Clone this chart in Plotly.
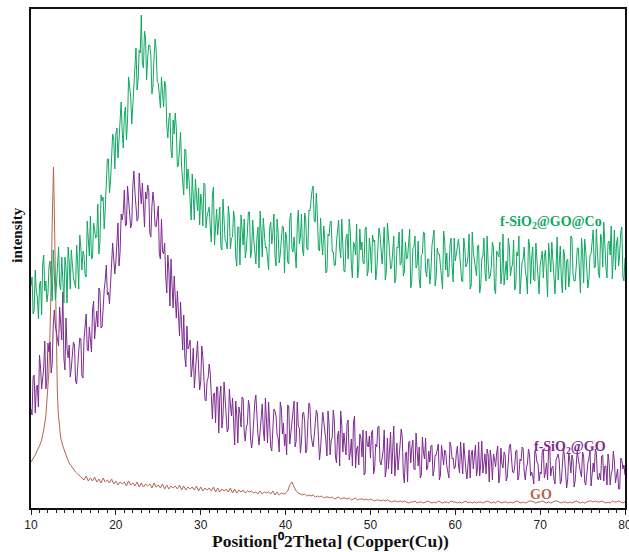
import plotly.graph_objects as go

# 2-theta grid (degrees) for the two noisy patterns, 0.125 deg step
two_theta = [10 + 0.125 * i for i in range(561)]

co_composite = [
    222, 231, 194, 198, 238, 217, 211, 189, 223, 227, 193, 244, 253, 217, 227, 206,
    215, 242, 247, 227, 207, 258, 238, 208, 223, 243, 261, 223, 218, 251, 232, 205,
    251, 240, 205, 261, 246, 219, 258, 237, 230, 226, 220, 263, 247, 219, 273, 260,
    238, 257, 253, 233, 231, 287, 272, 252, 292, 249, 250, 285, 278, 270, 271, 304,
    254, 266, 313, 307, 311, 279, 300, 323, 349, 349, 315, 327, 345, 374, 369, 339,
    374, 380, 350, 370, 399, 406, 376, 360, 393, 401, 368, 387, 431, 422, 411, 384,
    406, 428, 447, 460, 418, 428, 458, 455, 493, 445, 440, 477, 470, 428, 450, 463,
    463, 452, 414, 422, 450, 469, 458, 426, 425, 411, 400, 431, 412, 401, 427, 422,
    383, 370, 389, 395, 358, 350, 388, 374, 395, 380, 341, 343, 359, 376, 341, 325,
    313, 359, 358, 319, 339, 328, 307, 288, 334, 317, 288, 329, 306, 297, 320, 283,
    314, 306, 282, 325, 323, 280, 292, 296, 301, 281, 266, 313, 321, 263, 290, 299,
    273, 290, 301, 261, 258, 309, 285, 268, 266, 259, 302, 291, 259, 270, 271, 297,
    288, 251, 242, 281, 281, 243, 293, 274, 263, 289, 250, 258, 273, 296, 296, 250,
    257, 288, 269, 254, 244, 270, 281, 240, 297, 276, 251, 290, 273, 260, 261, 247,
    238, 280, 286, 264, 274, 294, 252, 242, 289, 275, 245, 254, 266, 282, 281, 235,
    276, 271, 246, 244, 289, 295, 260, 256, 271, 250, 240, 283, 298, 264, 271, 294,
    258, 252, 295, 289, 260, 258, 298, 297, 309, 318, 322, 287, 286, 315, 292, 259,
    257, 290, 266, 253, 282, 268, 235, 237, 274, 272, 285, 287, 256, 256, 242, 243,
    266, 276, 288, 260, 250, 289, 261, 237, 236, 271, 274, 249, 289, 277, 243, 230,
    266, 263, 253, 284, 230, 241, 279, 258, 266, 245, 244, 279, 281, 232, 238, 270,
    259, 235, 273, 266, 268, 228, 238, 259, 280, 274, 251, 244, 261, 281, 228, 236,
    285, 274, 257, 239, 241, 256, 272, 225, 230, 261, 260, 276, 243, 245, 279, 232,
    236, 266, 249, 250, 267, 279, 220, 227, 260, 261, 272, 240, 243, 267, 229, 220,
    253, 254, 276, 275, 238, 231, 249, 249, 224, 236, 262, 270, 278, 222, 231, 260,
    254, 254, 242, 227, 219, 277, 267, 238, 255, 231, 233, 263, 270, 242, 226, 270,
    247, 254, 262, 269, 257, 239, 227, 226, 270, 260, 241, 244, 251, 274, 219, 222,
    276, 256, 248, 235, 232, 262, 263, 215, 222, 249, 252, 270, 235, 227, 272, 245,
    229, 232, 242, 266, 260, 219, 214, 257, 254, 251, 266, 224, 236, 274, 223, 235,
    247, 228, 270, 260, 232, 240, 244, 268, 218, 221, 256, 252, 272, 214, 226, 246,
    249, 261, 237, 231, 214, 269, 263, 224, 250, 261, 228, 227, 265, 244, 222, 214,
    242, 251, 257, 230, 252, 258, 222, 211, 265, 245, 236, 266, 246, 223, 214, 241,
    271, 228, 243, 262, 228, 215, 259, 253, 218, 247, 249, 221, 232, 272, 270, 234,
    227, 227, 241, 260, 260, 241, 215, 270, 256, 225, 269, 257, 241, 220, 229, 253,
    254, 269, 278, 240, 241, 279, 254, 235, 230, 274, 269, 241, 286, 259, 241, 230,
    265, 267, 253, 282, 229, 251, 278, 238, 265, 271, 242, 254, 276, 281, 231, 227,
    250,
]

sio2_go = [
    99, 93, 131, 133, 95, 121, 123, 101, 153, 141, 119, 130, 140, 167, 119, 128,
    165, 156, 166, 135, 145, 183, 198, 182, 174, 165, 162, 201, 188, 168, 216, 150,
    138, 190, 159, 150, 163, 131, 140, 154, 166, 163, 127, 124, 149, 157, 170, 169,
    132, 130, 169, 184, 194, 159, 157, 181, 168, 156, 198, 207, 169, 189, 197, 181,
    220, 217, 180, 181, 208, 218, 228, 243, 213, 216, 204, 230, 256, 265, 249, 234,
    246, 262, 285, 242, 256, 294, 288, 296, 318, 282, 283, 322, 302, 294, 280, 285,
    322, 337, 316, 305, 287, 290, 335, 317, 304, 325, 291, 281, 316, 309, 323, 317,
    275, 271, 302, 316, 305, 282, 281, 293, 302, 254, 249, 289, 257, 254, 265, 231,
    215, 253, 238, 202, 249, 223, 200, 232, 200, 190, 217, 188, 172, 206, 184, 158,
    193, 151, 141, 182, 159, 162, 168, 131, 141, 160, 120, 139, 160, 167, 141, 118,
    126, 162, 151, 126, 109, 107, 127, 130, 144, 135, 102, 89, 114, 115, 85, 121,
    121, 75, 112, 122, 80, 92, 126, 108, 93, 76, 79, 119, 103, 92, 110, 77,
    63, 107, 93, 65, 101, 95, 81, 111, 110, 76, 67, 81, 84, 108, 101, 69,
    60, 70, 93, 106, 113, 90, 73, 63, 80, 96, 104, 78, 67, 110, 89, 65,
    106, 86, 61, 57, 84, 99, 97, 92, 73, 70, 56, 106, 100, 74, 85, 62,
    74, 53, 103, 102, 64, 74, 86, 92, 107, 61, 67, 106, 82, 80, 55, 66,
    94, 96, 87, 55, 58, 85, 105, 102, 74, 66, 61, 72, 87, 98, 94, 59,
    48, 59, 78, 96, 87, 79, 67, 52, 97, 84, 53, 67, 71, 98, 87, 52,
    45, 72, 77, 42, 97, 83, 56, 75, 62, 53, 85, 88, 48, 55, 69, 42,
    85, 92, 40, 59, 62, 43, 74, 70, 51, 78, 33, 35, 77, 63, 61, 72,
    50, 75, 78, 34, 40, 64, 61, 81, 82, 46, 43, 51, 57, 78, 31, 39,
    70, 39, 63, 76, 34, 60, 82, 32, 50, 65, 38, 48, 64, 79, 71, 34,
    25, 55, 56, 26, 65, 67, 45, 60, 68, 39, 38, 75, 50, 42, 61, 30,
    33, 71, 56, 49, 70, 38, 41, 57, 46, 62, 63, 32, 38, 53, 53, 59,
    64, 28, 33, 63, 49, 43, 58, 56, 42, 35, 30, 66, 61, 49, 50, 39,
    41, 55, 62, 43, 35, 66, 51, 34, 65, 49, 38, 29, 48, 58, 30, 53,
    58, 39, 52, 63, 32, 40, 66, 32, 44, 67, 35, 45, 54, 34, 59, 53,
    26, 58, 48, 28, 54, 49, 41, 55, 62, 25, 32, 60, 44, 40, 56, 53,
    27, 31, 50, 62, 64, 45, 36, 35, 41, 57, 58, 28, 32, 49, 47, 61,
    59, 36, 28, 40, 44, 59, 53, 32, 36, 32, 24, 57, 55, 46, 44, 27,
    36, 34, 57, 59, 30, 36, 45, 28, 59, 62, 32, 40, 42, 29, 24, 48,
    52, 54, 47, 24, 27, 45, 60, 51, 38, 20, 29, 55, 48, 35, 53, 48,
    21, 27, 43, 58, 49, 41, 36, 31, 56, 52, 26, 23, 38, 45, 50, 57,
    22, 32, 45, 36, 59, 55, 30, 28, 35, 28, 52, 53, 27, 42, 42, 23,
    54, 46, 23, 34, 38, 57, 47, 25, 31, 39, 19, 19, 50, 48, 39, 43,
    33,
]

go_theta = (
    [10.0, 10.25, 10.5, 10.75, 11.0, 11.25, 11.5, 11.75, 12.0, 12.1, 12.2, 12.3,
     12.4, 12.5, 12.6, 12.65, 12.7, 12.8, 12.9, 13.0, 13.1, 13.2, 13.3, 13.4, 13.5,
     13.75, 14.0, 14.25, 14.5, 14.75, 15.0, 15.25, 15.5, 15.75]
    + [16 + 0.25 * i for i in range(257)]
)

go_only = [
    46, 49, 53, 58, 62, 68, 78, 92, 118, 135, 160, 190,
    235, 285, 330, 341, 320, 260, 200, 150, 118, 96, 84, 76, 70,
    62, 55, 50, 45, 42, 38, 36, 34, 32,
    31, 28, 32, 27, 30, 27, 31, 26, 29, 25, 30, 26, 28, 25, 29, 24,
    27, 23, 26, 24, 26, 22, 27, 23, 25, 22, 26, 21, 25, 21, 24, 22,
    24, 20, 25, 21, 23, 20, 24, 19, 23, 19, 22, 20, 22, 19, 23, 18,
    22, 18, 21, 19, 21, 18, 22, 17, 21, 17, 20, 18, 20, 17, 21, 16,
    20, 16, 19, 17, 19, 16, 20, 15, 19, 15, 18, 16, 18, 15, 17, 16,
    17, 15, 16, 14, 17, 14, 16, 15, 16, 14, 17, 13, 16, 13, 15, 14,
    15, 17, 23, 26, 21, 17, 15, 14, 13, 14, 12, 13, 12, 13, 11, 12,
    11, 12, 10, 11, 11, 10, 11, 9, 10, 11, 9, 10, 10, 9, 10, 8,
    9, 10, 8, 9, 9, 8, 9, 8, 9, 8, 7, 8, 8, 7, 8, 7,
    8, 7, 6, 7, 7, 6, 7, 6, 7, 6, 5, 6, 6, 7, 5, 6,
    6, 5, 6, 7, 6, 5, 6, 5, 7, 6, 5, 6, 6, 5, 7, 6,
    6, 5, 6, 5, 6, 7, 5, 6, 5, 6, 5, 6, 6, 5, 6, 7,
    6, 5, 6, 5, 7, 6, 5, 6, 6, 5, 6, 5, 6, 7, 6, 5,
    6, 5, 6, 7, 7, 6, 5, 6, 6, 7, 6, 5, 6, 5, 6, 7,
    7, 6, 5, 6, 6, 5, 6, 5, 6, 7, 6, 5, 6, 5, 6, 7,
    7, 6, 7, 6, 6, 7, 6, 5, 6, 5, 7, 6, 6, 7, 6, 5, 6,
]

x_ticks = [10, 20, 30, 40, 50, 60, 70, 80]

GREEN = "#0fa862"
PURPLE = "#7d2b8f"
BROWN = "#b5654f"
SERIF = "Liberation Serif, Times New Roman, serif"

fig = go.Figure()
fig.add_trace(go.Scatter(x=go_theta, y=go_only, mode="lines",
                         line=dict(color=BROWN, width=1), name="GO"))
fig.add_trace(go.Scatter(x=two_theta, y=sio2_go, mode="lines",
                         line=dict(color=PURPLE, width=1), name="f-SiO2@GO"))
fig.add_trace(go.Scatter(x=two_theta, y=co_composite, mode="lines",
                         line=dict(color=GREEN, width=1), name="f-SiO2@GO@Co"))

fig.add_annotation(x=71.3, y=286, xref="x", yref="y",
                   text="<b>f-SiO<sub>2</sub>@GO@Co</b>", showarrow=False,
                   font=dict(family=SERIF, size=14, color=GREEN))
fig.add_annotation(x=73.5, y=61, xref="x", yref="y",
                   text="<b>f-SiO<sub>2</sub>@GO</b>", showarrow=False,
                   font=dict(family=SERIF, size=14, color=PURPLE))
fig.add_annotation(x=70.1, y=14, xref="x", yref="y",
                   text="<b>GO</b>", showarrow=False,
                   font=dict(family=SERIF, size=14, color=BROWN))
fig.add_annotation(x=-0.024, y=0.547, xref="paper", yref="paper",
                   xanchor="center", yanchor="middle",
                   text="<b>intensity</b>", textangle=-90, showarrow=False,
                   font=dict(family=SERIF, size=15, color="#111"))
# x-axis title placed as an annotation for precise vertical position
fig.add_annotation(x=0.505, y=-0.067, xref="paper", yref="paper",
                   xanchor="center", yanchor="middle",
                   text="<b>Position[\u20702Theta] (Copper(Cu))</b>",
                   showarrow=False,
                   font=dict(family=SERIF, size=17.5, color="#111"))

fig.update_layout(
    width=629, height=552,
    margin=dict(l=31, r=4, t=9, b=44, autoexpand=False),
    paper_bgcolor="white", plot_bgcolor="white",
    showlegend=False,
    xaxis=dict(
        range=[10, 80], tickvals=x_ticks, ticks="outside", ticklen=5, tickwidth=1,
        tickcolor="#222", showgrid=False, zeroline=False, ticklabeloverflow="allow",
        automargin=False,
        showline=True, linecolor="#111", linewidth=2, mirror=True,
        minor=dict(dtick=1, ticks="outside", ticklen=3, tickcolor="#222", showgrid=False),
        tickfont=dict(family="Liberation Sans, Arial, sans-serif", size=12, color="#222"),
    ),
    yaxis=dict(
        range=[0, 499], showticklabels=False, ticks="", showgrid=False, zeroline=False,
        automargin=False,
        showline=True, linecolor="#111", linewidth=2, mirror=True,
    ),
)

fig.write_html("out.html")
